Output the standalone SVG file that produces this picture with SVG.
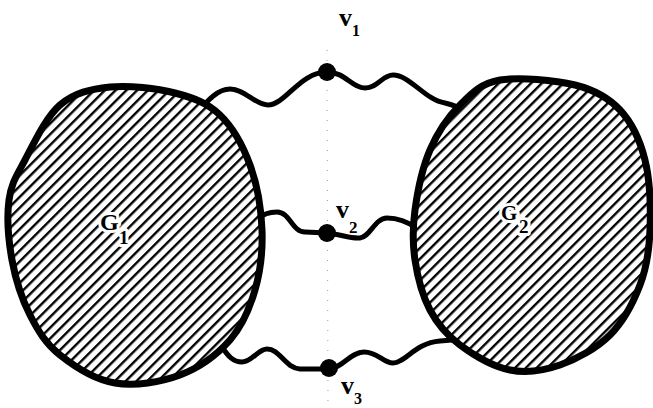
<svg xmlns="http://www.w3.org/2000/svg" width="653" height="408" viewBox="0 0 653 408">
  <style>
    .blob { stroke: #000; stroke-width: 7; fill: url(#hatch); stroke-linejoin: round; }
    .wire { stroke: #000; stroke-width: 5; fill: none; stroke-linecap: round; stroke-linejoin: round; }
    .dot { fill: #000; }
    .lbl { font-family: "Liberation Serif", "DejaVu Serif", serif; font-weight: bold; fill: #000; }
    .glbl { font-family: "Liberation Serif", "DejaVu Serif", serif; font-weight: bold; fill: #000; stroke: #fff; stroke-width: 6; paint-order: stroke; stroke-linejoin: round; }
    .guide { stroke: #999; stroke-width: 1; stroke-dasharray: 1 9; fill: none; }
  </style>
  <defs>
    <pattern id="hatch" patternUnits="userSpaceOnUse" width="7.6" height="20" patternTransform="rotate(45)">
      <rect width="7.6" height="20" fill="#fff"/>
      <line x1="1.2" y1="0" x2="1.2" y2="20" stroke="#000" stroke-width="2.4"/>
    </pattern>
  </defs>
  <rect width="653" height="408" fill="#fff"/>

  <line class="guide" x1="327" y1="50" x2="328" y2="408"/>

  <g id="connectors">
    <path class="wire" d="M 198,112 C 208,100 218,89 230,89 C 245,89 255,105 268,105 C 285,105 300,72 327,72 C 345,72 352,88 365,88 C 378,88 382,75 393,75 C 410,75 425,100 445,103 C 450,104 455,106 460,108"/>
    <path class="wire" d="M 258,219 C 263,214 270,212 277,212 C 290,212 292,232 305,232 L 327,233 C 340,234 350,239 360,238 C 370,237 375,218 387,218 C 400,218 408,222 416,228"/>
    <path class="wire" d="M 222,347 C 228,356 233,362 242,362 C 252,362 258,349 267,349 C 280,349 285,368 300,369 L 328,369 C 342,369 350,352 364,352 C 378,352 383,363 393,363 C 405,363 415,343 440,341 L 452,340"/>
  </g>

  <g id="G1">
    <path class="blob" d="M 110,87 C 129.2,85 156.7,88.3 175,93 C 193.3,97.7 207.5,103 220,115 C 232.5,127 243,145.8 250,165 C 257,184.2 261.2,209.2 262,230 C 262.8,250.8 260.3,271.7 255,290 C 249.7,308.3 242.5,325.8 230,340 C 217.5,354.2 199.2,367.8 180,375 C 160.8,382.2 135,386.3 115,383 C 95,379.7 74.2,366.3 60,355 C 45.8,343.7 38,330.8 30,315 C 22,299.2 15.5,279.2 12,260 C 8.5,240.8 6.8,216.7 9,200 C 11.2,183.3 16.5,175.8 25,160 C 33.5,144.2 45.8,117.2 60,105 C 74.2,92.8 90.8,89 110,87 Z"/>
    <text class="glbl" x="100" y="230" font-size="24">G</text>
    <text class="glbl" x="119" y="244" font-size="19">1</text>
  </g>

  <g id="G2">
    <path class="blob" d="M 500,80 C 519.2,76.7 555,80 575,85 C 595,90 608.3,97.5 620,110 C 631.7,122.5 640,140 645,160 C 650,180 650.8,209.2 650,230 C 649.2,250.8 646.7,267.5 640,285 C 633.3,302.5 623.3,321.7 610,335 C 596.7,348.3 576.7,359.2 560,365 C 543.3,370.8 526.7,373.3 510,370 C 493.3,366.7 473.3,355 460,345 C 446.7,335 437.5,324.2 430,310 C 422.5,295.8 417.5,276.7 415,260 C 412.5,243.3 412.5,228.3 415,210 C 417.5,191.7 422.5,167.5 430,150 C 437.5,132.5 448.3,116.7 460,105 C 471.7,93.3 480.8,83.3 500,80 Z"/>
    <text class="glbl" x="501" y="220" font-size="21">G</text>
    <text class="glbl" x="519" y="233" font-size="19">2</text>
  </g>

  <g id="v1">
    <circle class="dot" cx="327" cy="72" r="9"/>
    <text class="lbl" x="339" y="26" font-size="26">v</text>
    <text class="lbl" x="352" y="36" font-size="16">1</text>
  </g>

  <g id="v2">
    <circle class="dot" cx="327" cy="233" r="9"/>
    <text class="lbl" x="336" y="218" font-size="26">v</text>
    <text class="lbl" x="349" y="233" font-size="17">2</text>
  </g>

  <g id="v3">
    <circle class="dot" cx="329" cy="368" r="9"/>
    <text class="lbl" x="341" y="394" font-size="26">v</text>
    <text class="lbl" x="354" y="404" font-size="16">3</text>
  </g>
</svg>
